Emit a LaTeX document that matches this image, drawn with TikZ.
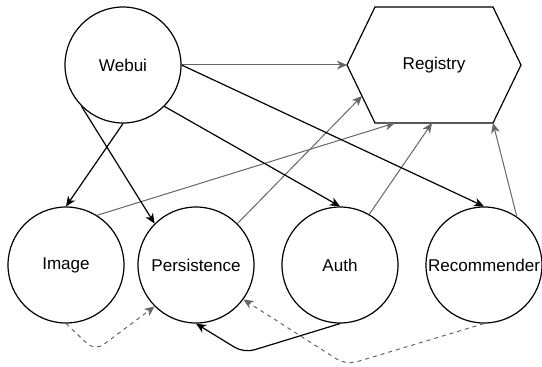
\documentclass[tikz,border=0pt]{standalone}
\usepackage{fontspec}
\setmainfont{Liberation Sans}
\usepackage{tikz}
\usetikzlibrary{arrows.meta}
\usetikzlibrary{positioning}
\definecolor{linkgray}{HTML}{666666}
\tikzset{
% Define standard arrow tip
>={Stealth[length=7.5pt, width=6.5pt, inset=2.2pt]}
}

\begin{document}
\begin{tikzpicture}[x=0.75pt, y=-0.75pt, line width=0.9pt,
    service/.style={circle, draw=black, minimum size=87pt, inner sep=0,
      font=\fontsize{12.8}{15}\selectfont},
    call/.style={->, draw=black},
    register/.style={->, draw=linkgray, line width=0.75pt},
    uses/.style={->, draw=linkgray, dashed, dash pattern=on 3pt off 3pt,
      line width=0.75pt, rounded corners=8pt}]
  \useasboundingbox (0,0) rectangle (542,367);

  \node[service] (webui) at (123,65) {Webui};
  \node[service] (image) at (66,265) {Image};
  \node[service] (persistence) at (196,265) {Persistence};
  \node[service] (auth) at (340,265) {Auth};
  \node[service] (recommender) at (484,265) {Recommender};

  % registry hexagon
  \coordinate (regw) at (347,65);
  \coordinate (regnw) at (375,7);
  \coordinate (regne) at (493,7);
  \coordinate (rege) at (521,65);
  \coordinate (regse) at (493,123);
  \coordinate (regsw) at (375,123);
  \draw[draw=black] (regw) -- (regnw) -- (regne) -- (rege) -- (regse) -- (regsw) -- cycle;
  \node[font=\fontsize{12.8}{15}\selectfont] (registry) at (434,65) {Registry};

  % ports on the registry
  \coordinate (regp1) at (362,96);
  \coordinate (regp2) at (395,123);
  \coordinate (regp3) at (432,123);

  \draw[register] (webui.east) -- (regw);
  \draw[register] (image.58) -- (regp2);
  \draw[register] (persistence.north east) -- (regp1);
  \draw[register] (auth.60) -- (regp3);
  \draw[register] (recommender.56) -- (regse);

  \draw[call] (webui.south) -- (image.north);
  \draw[call] (webui.south west) -- (persistence.north west);
  \draw[call] (webui.south east) -- (auth.north);
  \draw[call] (webui.east) -- (recommender.north);

  \coordinate (bend1) at (244,353);
  \draw[call, rounded corners=8pt] (auth.south) -- (bend1) -- (persistence.south);

  \coordinate (bend2) at (95,351);
  \draw[uses] (image.south) -- (bend2) -- (persistence.south west);
  \coordinate (bend3) at (346,365);
  \draw[uses] (recommender.south) -- (bend3) -- (persistence.-36);
\end{tikzpicture}
\end{document}
